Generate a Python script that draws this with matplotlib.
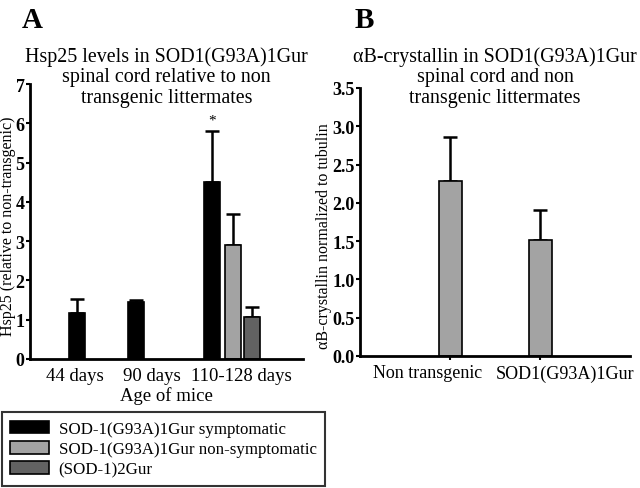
import numpy as np
import matplotlib.pyplot as plt
from matplotlib.patches import Patch

plt.rcParams['font.family'] = ['Liberation Serif', 'DejaVu Serif']

# Panel A data
age_groups = ['44 days', '90 days', '110-128 days']
series_names = ['SOD-1(G93A)1Gur symptomatic',
                'SOD-1(G93A)1Gur non-symptomatic',
                '(SOD-1)2Gur']
# bars in order: 44 symptomatic, 90 symptomatic, 110-128 sym / non-sym / (SOD-1)2Gur
hsp_values = [1.17, 1.45, 4.5, 2.9, 1.07]
hsp_errors = [0.35, 0.04, 1.3, 0.8, 0.25]
hsp_series = [0, 0, 0, 1, 2]

# Panel B data
b_groups = ['Non transgenic', 'SOD1(G93A)1Gur']
cry_values = [2.29, 1.52]
cry_errors = [0.57, 0.39]

# layout (bar slots in units of bar spacing)
bar_pos = [2.35, 5.3, 9.1, 10.15, 11.1]
tick_pos = [2.25, 6.1, 10.6]
b_pos = [1, 2]
b_label_pos = [0.75, 2.28]
colors = ['#000000', '#a3a3a3', '#626262']

fig = plt.figure(figsize=(6.4, 4.89), dpi=100)

# ---------- Panel A ----------
axA = fig.add_axes([0.047, 0.264, 0.426, 0.562])
bar_colors = [colors[s] for s in hsp_series]
axA.bar(bar_pos, hsp_values, width=0.82, color=bar_colors,
        edgecolor='black', linewidth=1.2, zorder=2)
axA.errorbar(bar_pos, hsp_values, yerr=[np.zeros(len(hsp_errors)), hsp_errors],
             fmt='none', ecolor='black', elinewidth=1.8, capsize=5,
             capthick=1.8, zorder=1)
axA.text(bar_pos[2], hsp_values[2] + hsp_errors[2] + 0.12, '*',
         ha='center', va='bottom', fontsize=11)
axA.set_xlim(0, 13.65)
axA.set_ylim(0, 7)
axA.set_yticks(range(0, 8))
axA.set_xticks(tick_pos)
axA.set_xticklabels(age_groups, fontsize=13.5)
axA.tick_params(axis='x', length=0, pad=6)
axA.tick_params(axis='y', length=3, width=1.5, pad=1, labelsize=13)
for lab in axA.get_yticklabels():
    lab.set_fontweight('bold')
for sp in ['top', 'right']:
    axA.spines[sp].set_visible(False)
for sp in ['left', 'bottom']:
    axA.spines[sp].set_linewidth(2)
axA.set_xlabel('Age of mice', fontsize=13.5, labelpad=1)
axA.set_ylabel('Hsp25 (relative to non-transgenic)', fontsize=11.5)
axA.yaxis.set_label_coords(-0.052, 0.487)
axA.set_title('Hsp25 levels in SOD1(G93A)1Gur\nspinal cord relative to non\ntransgenic littermates',
              fontsize=14.4, linespacing=1.12, y=0.905)

# ---------- Panel B ----------
axB = fig.add_axes([0.5625, 0.27, 0.422, 0.548])
axB.bar(b_pos, cry_values, width=0.255, color='#a3a3a3',
        edgecolor='black', linewidth=1.2, zorder=2)
axB.errorbar(b_pos, cry_values, yerr=[np.zeros(len(cry_errors)), cry_errors],
             fmt='none', ecolor='black', elinewidth=1.8, capsize=5,
             capthick=1.8, zorder=1)
axB.set_xlim(0, 3)
axB.set_ylim(0, 3.5)
axB.set_yticks(np.arange(0, 3.51, 0.5))
axB.set_yticklabels(['%.1f' % v for v in np.arange(0, 3.51, 0.5)])
# tick marks under the bars, labels where the reference puts them
axB.set_xticks(b_pos, minor=True)
axB.set_xticks(b_label_pos)
axB.set_xticklabels(b_groups, fontsize=13)
axB.tick_params(axis='x', which='major', length=0, pad=6)
axB.tick_params(axis='x', which='minor', length=3, width=1.5)
axB.tick_params(axis='y', length=3, width=1.5, pad=1, labelsize=13)
for lab in axB.get_yticklabels():
    lab.set_fontweight('bold')
for sp in ['top', 'right']:
    axB.spines[sp].set_visible(False)
for sp in ['left', 'bottom']:
    axB.spines[sp].set_linewidth(2)
axB.set_ylabel('\u03b1B-crystallin normalized to tubulin', fontsize=11.5, labelpad=2)
axB.yaxis.set_label_coords(-0.105, 0.45)
axB.set_title('\u03b1B-crystallin in SOD1(G93A)1Gur\nspinal cord and non\ntransgenic littermates',
              fontsize=14.4, linespacing=1.12, y=0.917)

# panel letters
fig.text(0.034, 0.959, 'A', fontsize=21, fontweight='bold', va='center')
fig.text(0.554, 0.959, 'B', fontsize=21, fontweight='bold', va='center')

# legend
handles = [Patch(facecolor=c, edgecolor='black', linewidth=1.2) for c in colors]
leg = fig.legend(handles, series_names, loc='lower left',
                 bbox_to_anchor=(0.003, 0.004), fontsize=12.2, frameon=True,
                 fancybox=False, edgecolor='black', handlelength=2.3,
                 handleheight=0.75, labelspacing=0.25, borderpad=0.5,
                 borderaxespad=0, handletextpad=0.55)
leg.get_frame().set_linewidth(1.5)

fig.savefig('out.png', dpi=100)
